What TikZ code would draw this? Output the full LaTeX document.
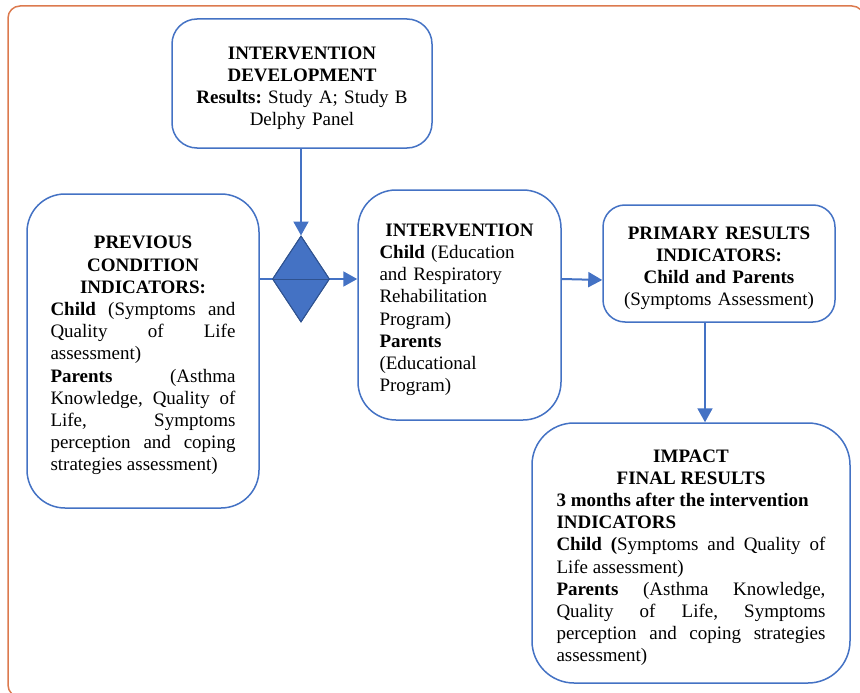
\documentclass[tikz,border=0pt]{standalone}
\usepackage{fontspec}
\setmainfont{Liberation Serif}
\usetikzlibrary{shapes.geometric,arrows.meta}
\definecolor{boxblue}{HTML}{4472C4}
\definecolor{diaborder}{HTML}{2F528F}
\definecolor{frameorange}{HTML}{DC7A4E}
\newcommand{\topstrut}{\rule{0pt}{22pt}}
\tikzset{
  box/.style={draw=boxblue, line width=1.5pt, fill=white, inner sep=0pt,
    font=\fontsize{19}{22.2}\selectfont\frenchspacing},
  conn/.style={draw=boxblue, line width=2pt, -{Triangle[length=14pt,width=15pt]}},
}
\begin{document}
\begin{tikzpicture}[x=1pt,y=-1pt]
\useasboundingbox (0,0) rectangle (860,693);
\clip (0,0) rectangle (860,693);
\draw[frameorange, line width=1.5pt, rounded corners=12pt] (8,6) rectangle (864,697);

\node[box, rounded corners=25pt, minimum width=260pt, minimum height=129pt,
  text width=230pt, align=center] (dev) at (302,83.5)
  {\topstrut\textbf{INTERVENTION}\\\textbf{DEVELOPMENT}\\\textbf{Results:} Study A; Study B\\Delphy Panel};

\node[box, rounded corners=38pt, minimum width=232pt, minimum height=314pt,
  text width=185pt, align=justify] (prev) at (143,351)
  {{\centering\bfseries\topstrut PREVIOUS\\CONDITION\\INDICATORS:\par}
   \textbf{Child} (Symptoms and\linebreak Quality of Life\linebreak assessment)\\
   \textbf{Parents} (Asthma\linebreak Knowledge, Quality of\linebreak Life, Symptoms\linebreak perception and coping\linebreak strategies assessment)};

\node[box, rounded corners=38pt, minimum width=203pt, minimum height=230pt,
  text width=160pt, align=left] (inter) at (459.5,305)
  {{\centering\bfseries\topstrut INTERVENTION\par}
   \textbf{Child} (Education\\and Respiratory\\Rehabilitation\\Program)\\\textbf{Parents}\\(Educational\\Program)};

\node[box, rounded corners=22pt, minimum width=232pt, minimum height=117pt,
  text width=215pt, align=center] (prim) at (719,263.5)
  {\topstrut\textbf{PRIMARY RESULTS}\\\textbf{INDICATORS:}\\\textbf{Child and Parents}\\(Symptoms Assessment)};

\node[box, rounded corners=42pt, minimum width=318pt, minimum height=260pt,
  text width=269pt, align=justify] (imp) at (691,553)
  {{\centering\bfseries\topstrut IMPACT\\FINAL RESULTS\par}
   \textbf{3 months after the intervention}\\
   \textbf{INDICATORS}\\
   \textbf{Child (}Symptoms and Quality of\linebreak Life assessment)\\
   \textbf{Parents} (Asthma Knowledge,\linebreak Quality of Life, Symptoms\linebreak perception and coping strategies\linebreak assessment)};

\node[diamond, draw=diaborder, fill=boxblue, line width=1pt, inner sep=0pt,
  minimum width=57pt, minimum height=86pt] (dia) at (301,279) {};

\draw[conn] (prev.east |- dia.center) -- (inter.west |- dia.center);
\node[diamond, draw=diaborder, fill=boxblue, line width=1pt, inner sep=0pt,
  minimum width=57pt, minimum height=86pt] (dia2) at (dia.center) {};
\draw[diaborder, line width=1pt] (dia2.west) -- (dia2.east);
\draw[conn] (dev.south -| dia2.north) -- (dia2.north);
\draw[conn] (inter.east |- dia2.center) -- ([yshift=-16.5pt]prim.west);
\draw[conn] ([xshift=-14pt]prim.south) -- ([xshift=-14pt]prim.south |- imp.north);
\end{tikzpicture}
\end{document}
